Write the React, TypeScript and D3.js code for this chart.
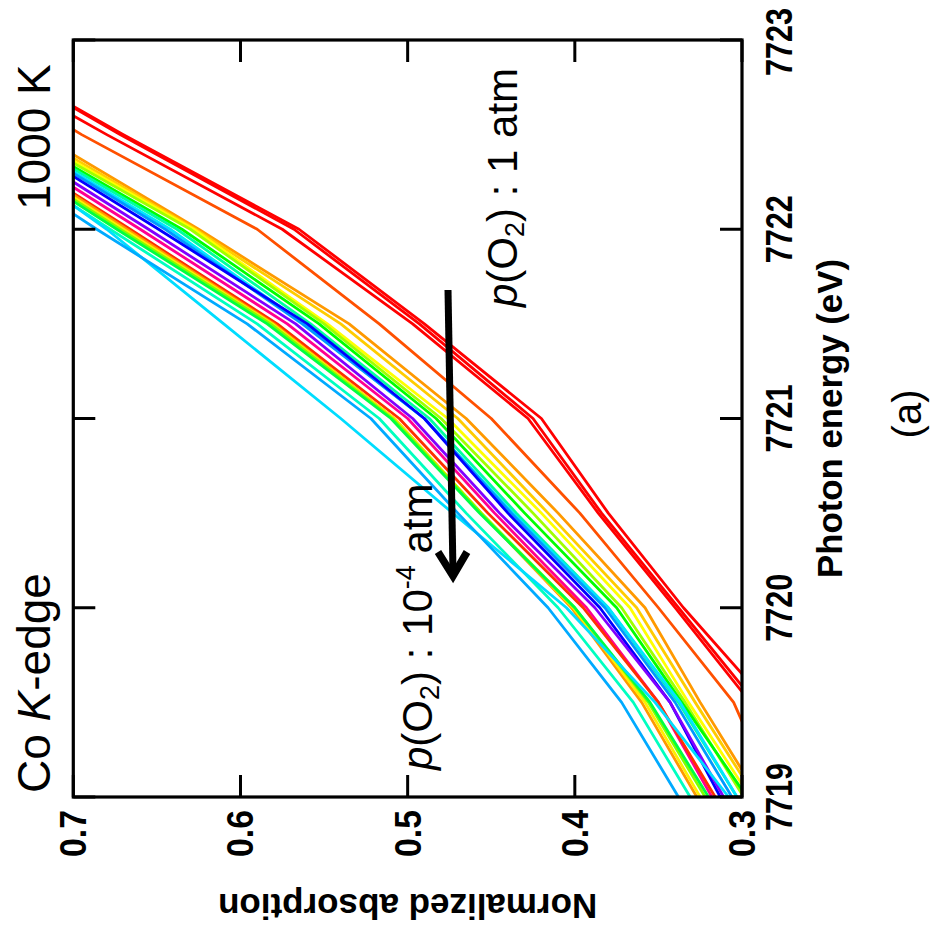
import React from 'react';
import * as d3 from 'd3';

// Photon energy grid (eV)
const energies = [7719, 7719.5, 7720, 7720.5, 7721, 7721.5, 7722, 7722.5, 7723];

// Curve colours (p(O2) from 1 atm down to 1e-4 atm)
const curveColors = [
  '#ff0000', '#ff0000', '#ff0000', '#ff5000', '#ff9900', '#ffcc00', '#ffff00', '#a0ff00',
  '#00ff00', '#00ffa0', '#00e5ff', '#0099ff', '#0000ff', '#8000ff', '#ff0090', '#ff3000',
  '#ff9900', '#ffee00', '#80ff00', '#00ff40', '#00ffc0', '#00ddff', '#00aaff',
];

// Normalized absorption values at each energy of the grid
const curves: number[][] = [
  [0.26, 0.285, 0.335, 0.38, 0.42, 0.49, 0.565, 0.67, 0.77],
  [0.265, 0.292, 0.338, 0.384, 0.425, 0.493, 0.568, 0.672, 0.77],
  [0.27, 0.295, 0.34, 0.386, 0.428, 0.497, 0.575, 0.68, 0.78],
  [0.28, 0.305, 0.35, 0.397, 0.45, 0.517, 0.59, 0.695, 0.79],
  [0.29, 0.325, 0.358, 0.41, 0.465, 0.535, 0.625, 0.72, 0.82],
  [0.292, 0.328, 0.363, 0.416, 0.47, 0.54, 0.627, 0.724, 0.82],
  [0.295, 0.332, 0.367, 0.42, 0.476, 0.548, 0.628, 0.728, 0.83],
  [0.299, 0.334, 0.372, 0.425, 0.48, 0.55, 0.63, 0.73, 0.83],
  [0.297, 0.336, 0.375, 0.43, 0.483, 0.553, 0.635, 0.733, 0.83],
  [0.303, 0.338, 0.38, 0.435, 0.487, 0.558, 0.638, 0.735, 0.83],
  [0.303, 0.337, 0.38, 0.437, 0.49, 0.562, 0.642, 0.737, 0.83],
  [0.306, 0.34, 0.382, 0.438, 0.49, 0.563, 0.645, 0.738, 0.83],
  [0.313, 0.343, 0.385, 0.44, 0.49, 0.56, 0.649, 0.74, 0.83],
  [0.311, 0.343, 0.388, 0.445, 0.497, 0.567, 0.655, 0.745, 0.835],
  [0.318, 0.35, 0.393, 0.448, 0.5, 0.572, 0.66, 0.75, 0.84],
  [0.316, 0.35, 0.395, 0.452, 0.505, 0.578, 0.666, 0.755, 0.845],
  [0.327, 0.36, 0.402, 0.456, 0.508, 0.58, 0.668, 0.756, 0.845],
  [0.325, 0.358, 0.401, 0.456, 0.508, 0.581, 0.67, 0.758, 0.845],
  [0.322, 0.356, 0.4, 0.456, 0.509, 0.582, 0.672, 0.76, 0.85],
  [0.32, 0.355, 0.4, 0.457, 0.51, 0.584, 0.674, 0.762, 0.85],
  [0.331, 0.365, 0.41, 0.465, 0.517, 0.59, 0.678, 0.765, 0.855],
  [0.308, 0.352, 0.405, 0.473, 0.54, 0.61, 0.68, 0.76, 0.85],
  [0.338, 0.372, 0.416, 0.47, 0.522, 0.596, 0.686, 0.772, 0.86],
];

const energyTicks = [7719, 7720, 7721, 7722, 7723];
const absTicks = [0.7, 0.6, 0.5, 0.4, 0.3];

const W = 936;
const H = 935;
const L = 73.3;
const R = 742;
const T = 40;
const B = 797;
const TICK = 22;

export default function App() {
  const x = d3.scaleLinear().domain([0.7, 0.3]).range([L, R]);
  const y = d3.scaleLinear().domain([7723, 7719]).range([T, B]);
  const line = d3
    .line<number>()
    .x((d) => x(d))
    .y((_d, i) => y(energies[i]));
  const font = "'Liberation Sans', Arial, Helvetica, sans-serif";
  const fmt = d3.format('.1f');

  return (
    <svg
      width={W}
      height={H}
      style={{ position: 'absolute', left: 0, top: 0 }}
      fontFamily={font}
    >
      <defs>
        <clipPath id="plotArea">
          <rect x={L} y={T} width={R - L} height={B - T} />
        </clipPath>
      </defs>
      <rect width={W} height={H} fill="#ffffff" />

      <g clipPath="url(#plotArea)">
        {curves.map((c, i) => (
          <path
            key={i}
            d={line(c) as string}
            fill="none"
            stroke={curveColors[i]}
            strokeWidth={2.8}
            strokeLinejoin="round"
          />
        ))}
      </g>

      {/* frame */}
      <rect x={L} y={T} width={R - L} height={B - T} fill="none" stroke="#000" strokeWidth={3.2} />

      {/* absorption ticks (bottom & top) */}
      {absTicks.map((v) => (
        <g key={'a' + v}>
          <line x1={x(v)} x2={x(v)} y1={B} y2={B - TICK} stroke="#000" strokeWidth={3} />
          <line x1={x(v)} x2={x(v)} y1={T} y2={T + TICK} stroke="#000" strokeWidth={3} />
          <text
            transform={`translate(${x(v) + 13},810) rotate(-90)`}
            textAnchor="end"
            fontSize={36}
            fontWeight="bold"
            textLength={47}
            lengthAdjust="spacingAndGlyphs"
          >
            {fmt(v)}
          </text>
        </g>
      ))}

      {/* energy ticks (left & right) */}
      {energyTicks.map((e) => (
        <g key={'e' + e}>
          <line x1={L} x2={L + TICK} y1={y(e)} y2={y(e)} stroke="#000" strokeWidth={3} />
          <line x1={R} x2={R - TICK} y1={y(e)} y2={y(e)} stroke="#000" strokeWidth={3} />
          <text
            transform={`translate(792,${Math.max(y(e), 42)}) rotate(-90)`}
            textAnchor="middle"
            fontSize={36}
            fontWeight="bold"
            textLength={68}
            lengthAdjust="spacingAndGlyphs"
          >
            {e}
          </text>
        </g>
      ))}

      {/* axis titles */}
      <text
        transform={`translate(842,${(T + B) / 2}) rotate(-90)`}
        textAnchor="middle"
        fontSize={35}
        fontWeight="bold"
        textLength={319}
        lengthAdjust="spacingAndGlyphs"
      >
        Photon energy (eV)
      </text>
      <text
        transform={`translate(${(L + R) / 2},894) rotate(180)`}
        textAnchor="middle"
        fontSize={35}
        fontWeight="bold"
      >
        Normalized absorption
      </text>
      <text transform="translate(921,414) rotate(-90)" textAnchor="middle" fontSize={40}>
        (a)
      </text>

      {/* corner labels */}
      <text transform="translate(50,210) rotate(-90)" fontSize={46}>
        1000 K
      </text>
      <text transform="translate(50,793) rotate(-90)" fontSize={46}>
        Co <tspan fontStyle="italic">K</tspan>-edge
      </text>

      {/* annotations */}
      <text transform="translate(517,307) rotate(-90)" fontSize={42}>
        <tspan fontStyle="italic">p</tspan>(O
        <tspan fontSize={27} dy={7}>2</tspan>
        <tspan dy={-7}>) : 1 atm</tspan>
      </text>
      <text transform="translate(432,770) rotate(-90)" fontSize={42}>
        <tspan fontStyle="italic">p</tspan>(O
        <tspan fontSize={27} dy={7}>2</tspan>
        <tspan dy={-7}>) : 10</tspan>
        <tspan fontSize={27} dy={-17}>-4</tspan>
        <tspan dy={17}> atm</tspan>
      </text>

      {/* arrow */}
      <line x1={448} y1={290} x2={453} y2={572} stroke="#000" strokeWidth={7} />
      <polyline
        points="438,552 453,576 467,552"
        fill="none"
        stroke="#000"
        strokeWidth={7.5}
        strokeLinejoin="miter"
      />
    </svg>
  );
}
